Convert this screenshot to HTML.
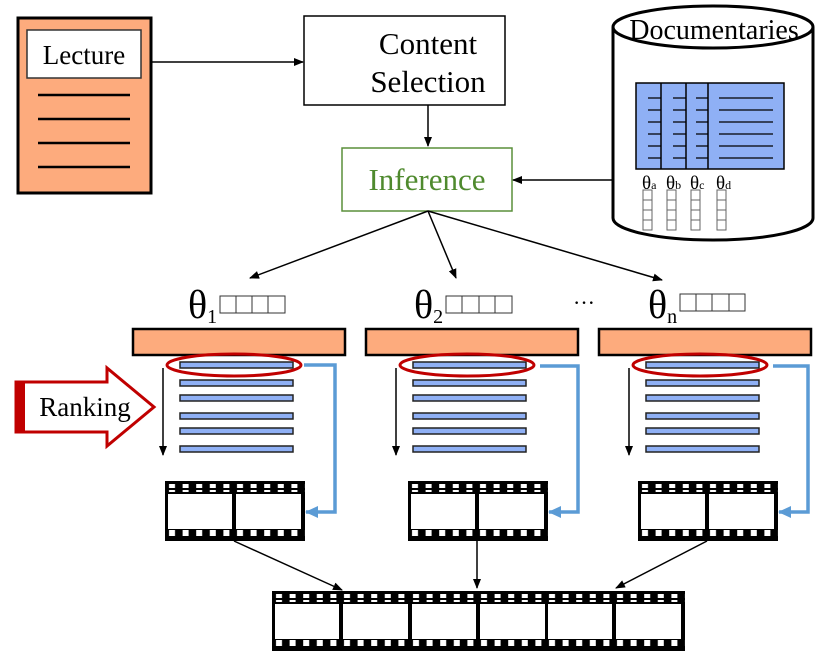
<!DOCTYPE html>
<html><head><meta charset="utf-8"><style>
html,body{margin:0;padding:0;background:#fff;width:830px;height:667px;overflow:hidden}
svg{display:block}
text{font-family:"Liberation Serif",serif;fill:#000}
</style></head><body>
<svg width="830" height="667" viewBox="0 0 830 667" xmlns="http://www.w3.org/2000/svg">
<defs>
<marker id="ah" markerWidth="10" markerHeight="10" refX="9" refY="5" orient="auto" markerUnits="userSpaceOnUse"><path d="M0,1 L10,5 L0,9 z" fill="#000"/></marker>
<marker id="bh" markerWidth="14" markerHeight="14" refX="12" refY="7" orient="auto" markerUnits="userSpaceOnUse"><path d="M0,1 L13,7 L0,13 z" fill="#5b9bd5"/></marker>
<pattern id="perf" x="0" y="0" width="13.6" height="8" patternUnits="userSpaceOnUse"><rect x="4" y="1" width="6" height="6" fill="#fff"/></pattern>
<g id="film2">
<rect x="0" y="0" width="140" height="60" fill="#000"/>
<rect x="0" y="3" width="140" height="8" fill="url(#perf)"/>
<rect x="0" y="49" width="140" height="8" fill="url(#perf)"/>
<rect x="3" y="13" width="64" height="35" fill="#fff"/>
<rect x="71" y="13" width="65" height="35" fill="#fff"/>
</g>
<g id="list">
<rect x="133" y="329" width="212" height="26" fill="#fdab7d" stroke="#000" stroke-width="2.5"/>
<g fill="#8fb0f5" stroke="#222" stroke-width="1.5">
<rect x="180" y="362" width="113" height="6"/>
<rect x="180" y="380" width="113" height="6"/>
<rect x="180" y="395" width="113" height="6"/>
<rect x="180" y="413" width="113" height="6"/>
<rect x="180" y="428" width="113" height="6"/>
<rect x="180" y="446" width="113" height="6"/>
</g>
<ellipse cx="234" cy="365" rx="67" ry="11" fill="none" stroke="#c00000" stroke-width="3"/>
<line x1="163" y1="368" x2="163" y2="455" stroke="#000" stroke-width="1.5" marker-end="url(#ah)"/>
</g>
</defs>

<rect x="18" y="18" width="133" height="175" fill="#fdab7d" stroke="#000" stroke-width="3"/>
<rect x="27" y="30" width="114" height="48" fill="#fff" stroke="#333" stroke-width="1.5"/>
<text x="84" y="64" font-size="27" text-anchor="middle">Lecture</text>
<g stroke="#000" stroke-width="2.5"><line x1="38" y1="95" x2="130" y2="95"/><line x1="38" y1="119" x2="130" y2="119"/><line x1="38" y1="143" x2="130" y2="143"/><line x1="38" y1="167" x2="130" y2="167"/></g>
<line x1="151" y1="62" x2="303" y2="62" stroke="#000" stroke-width="1.5" marker-end="url(#ah)"/>

<rect x="304" y="16" width="201" height="89" fill="#fff" stroke="#000" stroke-width="1.5"/>
<text x="428" y="54" font-size="31" text-anchor="middle">Content</text>
<text x="428" y="92" font-size="31" text-anchor="middle">Selection</text>
<line x1="428" y1="105" x2="428" y2="146" stroke="#000" stroke-width="1.5" marker-end="url(#ah)"/>

<rect x="342" y="148" width="170" height="63" fill="#fff" stroke="#5a8f3a" stroke-width="1.5"/>
<text x="427" y="190" font-size="31" text-anchor="middle" style="fill:#4f8a2e">Inference</text>
<line x1="612" y1="180" x2="513" y2="180" stroke="#000" stroke-width="1.5" marker-end="url(#ah)"/>

<path d="M613,27 L613,218 A100,22 0 0 0 813,218 L813,27" fill="#fff" stroke="#000" stroke-width="3"/>
<ellipse cx="713" cy="27" rx="100" ry="21" fill="#fff" stroke="#000" stroke-width="3"/>
<text x="714" y="39" font-size="28" text-anchor="middle">Documentaries</text>
<rect x="636" y="83" width="148" height="86" fill="#8fb0f5" stroke="#000" stroke-width="1.5"/>
<g stroke="#000" stroke-width="1.5"><line x1="661" y1="83" x2="661" y2="169"/><line x1="686" y1="83" x2="686" y2="169"/><line x1="708" y1="83" x2="708" y2="169"/></g>
<g stroke="#000" stroke-width="1.2">
<path d="M648,98h13M648,110h13M648,122h13M648,134h13M648,146h13M648,158h13"/>
<path d="M673,98h13M673,110h13M673,122h13M673,134h13M673,146h13M673,158h13"/>
<path d="M696,98h12M696,110h12M696,122h12M696,134h12M696,146h12M696,158h12"/>
<path d="M719,98h54M719,110h54M719,122h54M719,134h54M719,146h54M719,158h54"/>
</g>
<g font-size="19"><text x="642" y="189">θ<tspan font-size="12">a</tspan></text><text x="666" y="189">θ<tspan font-size="12">b</tspan></text><text x="690" y="189">θ<tspan font-size="12">c</tspan></text><text x="716" y="189">θ<tspan font-size="12">d</tspan></text></g>
<g fill="#fff" stroke="#666" stroke-width="1">
<path d="M643,190h9v40h-9zM643,200h9M643,210h9M643,220h9"/>
<path d="M667,190h9v40h-9zM667,200h9M667,210h9M667,220h9"/>
<path d="M691,190h9v40h-9zM691,200h9M691,210h9M691,220h9"/>
<path d="M717,190h9v40h-9zM717,200h9M717,210h9M717,220h9"/>
</g>

<g stroke="#000" stroke-width="1.5">
<line x1="428" y1="211" x2="250" y2="278" marker-end="url(#ah)"/>
<line x1="428" y1="211" x2="456" y2="278" marker-end="url(#ah)"/>
<line x1="428" y1="211" x2="662" y2="280" marker-end="url(#ah)"/>
</g>

<text x="188" y="318" font-size="40">θ<tspan font-size="20" dy="5">1</tspan></text>
<text x="414" y="318" font-size="40">θ<tspan font-size="20" dy="5">2</tspan></text>
<text x="573" y="310" font-size="22">···</text>
<text x="648" y="318" font-size="40">θ<tspan font-size="20" dy="5">n</tspan></text>
<g fill="#fff" stroke="#333" stroke-width="1">
<path d="M220,296h65v17h-65zM236,296v17M252,296v17M268,296v17"/>
<path d="M446,296h66v17h-66zM462,296v17M479,296v17M495,296v17"/>
<path d="M680,294h65v17h-65zM696,294v17M712,294v17M729,294v17"/>
</g>

<use href="#list"/>
<use href="#list" transform="translate(233,0)"/>
<use href="#list" transform="translate(466,0)"/>

<g fill="none" stroke="#5b9bd5" stroke-width="3.5">
<path d="M304,365 H335 V512 H306" marker-end="url(#bh)"/>
<path d="M540,366 H578 V512 H549" marker-end="url(#bh)"/>
<path d="M773,366 H808 V512 H779" marker-end="url(#bh)"/>
</g>

<path d="M16,382 H107 V368 L154,407 L107,446 V432 H16 Z" fill="#fff" stroke="#c00000" stroke-width="3"/>
<rect x="16" y="382" width="9" height="50" fill="#c00000"/>
<text x="85" y="416" font-size="27" text-anchor="middle">Ranking</text>

<use href="#film2" transform="translate(165,481)"/>
<use href="#film2" transform="translate(408,481)"/>
<use href="#film2" transform="translate(638,481)"/>
<use href="#film2" transform="translate(272,591)"/>
<use href="#film2" transform="translate(409,591)"/>
<use href="#film2" transform="translate(545,591)"/>

<g stroke="#000" stroke-width="1.5">
<line x1="234" y1="541" x2="342" y2="590" marker-end="url(#ah)"/>
<line x1="477" y1="541" x2="477" y2="588" marker-end="url(#ah)"/>
<line x1="707" y1="541" x2="616" y2="588" marker-end="url(#ah)"/>
</g>
</svg>
</body></html>
